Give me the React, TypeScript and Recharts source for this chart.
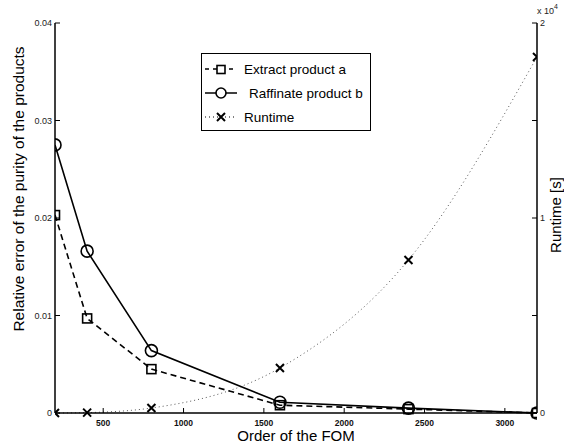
import React from "react";
import { ComposedChart, Line, XAxis, YAxis, Legend } from "recharts";

const fomOrder = [200, 400, 800, 1600, 2400, 3200];
const extractErr = [0.0203, 0.0097, 0.0045, 0.0008, 0.0004, 0];
const raffinateErr = [0.0275, 0.0166, 0.0064, 0.0011, 0.0005, 0];
const runtimeSec = [0, 20, 256, 2310, 7850, 18260];
const xTicks = [500, 1000, 1500, 2000, 2500, 3000];
const errTicks = [0, 0.01, 0.02, 0.03, 0.04];
const runtimeTicks = [0, 5000, 10000, 15000, 20000];

const data = fomOrder.map((x, i) => ({
  x,
  a: extractErr[i],
  b: raffinateErr[i],
  rt: runtimeSec[i],
}));

const FONT = "'Liberation Sans', Arial, Helvetica, sans-serif";

const BottomTick = (p: any) => (
  <g>
    <line x1={p.x} y1={p.y} x2={p.x} y2={p.y - 5} stroke="#000" />
    <text x={p.x} y={p.y + 13} textAnchor="middle" fontSize={8.5} fontWeight="bold" fontFamily={FONT} fill="#111">
      {p.payload.value}
    </text>
  </g>
);

const TopTick = (p: any) => (
  <line x1={p.x} y1={p.y} x2={p.x} y2={p.y + 5} stroke="#000" />
);

const LeftTick = (p: any) => (
  <g>
    <line x1={p.x} y1={p.y} x2={p.x + 5} y2={p.y} stroke="#000" />
    <text x={p.x - 3} y={p.y + 3} textAnchor="end" fontSize={9} fontFamily={FONT} fill="#222">
      {p.payload.value}
    </text>
  </g>
);

const RightTick = (p: any) => {
  const v = p.payload.value;
  return (
    <g>
      <line x1={p.x} y1={p.y} x2={p.x - 5} y2={p.y} stroke="#000" />
      {v % 10000 === 0 && (
        <text x={p.x + 3} y={p.y + 3} textAnchor="start" fontSize={9} fontFamily={FONT} fill="#222">
          {v / 10000}
        </text>
      )}
    </g>
  );
};

const SquareDot = (p: any) => (
  <rect key={p.key} x={p.cx - 4.5} y={p.cy - 4.5} width={9} height={9} fill="none" stroke="#000" strokeWidth={1.6} />
);

const CircleDot = (p: any) => (
  <circle key={p.key} cx={p.cx} cy={p.cy} r={6} fill="none" stroke="#000" strokeWidth={1.6} />
);

const CrossDot = (p: any) => (
  <path
    key={p.key}
    d={`M${p.cx - 4},${p.cy - 4}L${p.cx + 4},${p.cy + 4}M${p.cx - 4},${p.cy + 4}L${p.cx + 4},${p.cy - 4}`}
    stroke="#000"
    strokeWidth={2}
  />
);

const legendRows = [
  { label: "Extract product a", dash: "4 4", mark: "square", gap: 5 },
  { label: "Raffinate product b", dash: "", mark: "circle", gap: 10 },
  { label: "Runtime", dash: "1 3", mark: "cross", gap: 5 },
];

const LegendBox = () => (
  <div
    style={{
      border: "1px solid #000",
      background: "#fff",
      width: 168,
      height: 73,
      boxSizing: "content-box",
      fontFamily: FONT,
      fontSize: 13.5,
      paddingTop: 3,
      whiteSpace: "nowrap",
    }}
  >
    {legendRows.map((r) => (
      <div key={r.label} style={{ display: "flex", alignItems: "center", height: 24 }}>
        <svg width={36} height={16} style={{ marginLeft: 1, flexShrink: 0 }}>
          <line x1={2} y1={8} x2={34} y2={8} stroke={r.mark === "cross" ? "#555" : "#000"} strokeWidth={1.5} strokeDasharray={r.dash} />
          {r.mark === "square" && <rect x={14} y={4.5} width={8} height={8} fill="#fff" stroke="#000" strokeWidth={1.6} />}
          {r.mark === "circle" && <circle cx={18} cy={8} r={5} fill="#fff" stroke="#000" strokeWidth={1.6} />}
          {r.mark === "cross" && (
            <path d="M14,4L22,12M14,12L22,4" stroke="#000" strokeWidth={2} />
          )}
        </svg>
        <span style={{ marginLeft: r.gap, color: "#000" }}>{r.label}</span>
      </div>
    ))}
  </div>
);

export default function App() {
  return (
    <div style={{ position: "absolute", left: 0, top: 0, width: 564, height: 444, background: "#fff" }}>
      <ComposedChart width={564} height={444} data={data} margin={{ top: 23, right: 0, bottom: 0, left: 0 }}>
        <XAxis
          dataKey="x"
          type="number"
          domain={[200, 3200]}
          ticks={xTicks}
          allowDataOverflow
          height={31}
          tickSize={0}
          tickMargin={0}
          tickLine={false}
          tick={<BottomTick />}
          axisLine={{ stroke: "#000", strokeWidth: 1.5 }}
          label={{ value: "Order of the FOM", position: "insideBottom", offset: 3, fontSize: 15, fontFamily: FONT, fill: "#000" }}
        />
        <XAxis
          xAxisId="top"
          orientation="top"
          dataKey="x"
          type="number"
          domain={[200, 3200]}
          ticks={xTicks}
          allowDataOverflow
          height={0}
          tickSize={0}
          tickMargin={0}
          tickLine={false}
          tick={<TopTick />}
          axisLine={{ stroke: "#000", strokeWidth: 1 }}
        />
        <YAxis
          yAxisId="err"
          domain={[0, 0.04]}
          ticks={errTicks}
          width={55}
          tickSize={0}
          tickMargin={0}
          tickLine={false}
          tick={<LeftTick />}
          axisLine={{ stroke: "#000", strokeWidth: 1.5 }}
          label={{
            value: "Relative error of the purity of the products",
            position: "center",
            angle: -90,
            dx: -9.5,
            dy: -29,
            fontSize: 15.5,
            fontFamily: FONT,
            fill: "#000",
          }}
        />
        <YAxis
          yAxisId="rt"
          orientation="right"
          domain={[0, 20000]}
          ticks={runtimeTicks}
          width={27}
          tickSize={0}
          tickMargin={0}
          tickLine={false}
          tick={<RightTick />}
          axisLine={{ stroke: "#000", strokeWidth: 1.5 }}
          label={{
            value: "Runtime [s]",
            position: "center",
            angle: -90,
            dx: 5,
            dy: -3,
            fontSize: 15,
            fontFamily: FONT,
            fill: "#000",
          }}
        />
        <Line
          yAxisId="rt"
          dataKey="rt"
          type="monotone"
          stroke="#555"
          strokeWidth={1}
          strokeDasharray="1 3"
          dot={CrossDot}
          isAnimationActive={false}
        />
        <Line
          yAxisId="err"
          dataKey="a"
          type="linear"
          stroke="#000"
          strokeWidth={1.6}
          strokeDasharray="6 4"
          dot={SquareDot}
          isAnimationActive={false}
        />
        <Line
          yAxisId="err"
          dataKey="b"
          type="linear"
          stroke="#000"
          strokeWidth={1.6}
          dot={CircleDot}
          isAnimationActive={false}
        />
        <Legend
          layout="vertical"
          align="center"
          verticalAlign="middle"
          content={<LegendBox />}
          wrapperStyle={{ top: 53, left: 201, width: 170, height: 77 }}
        />
      </ComposedChart>
      <div style={{ position: "absolute", left: 537, top: 6, fontFamily: FONT, fontSize: 9, color: "#222" }}>
        x 10<sup style={{ fontSize: 7, verticalAlign: "top", position: "relative", top: -3 }}>4</sup>
      </div>
    </div>
  );
}
